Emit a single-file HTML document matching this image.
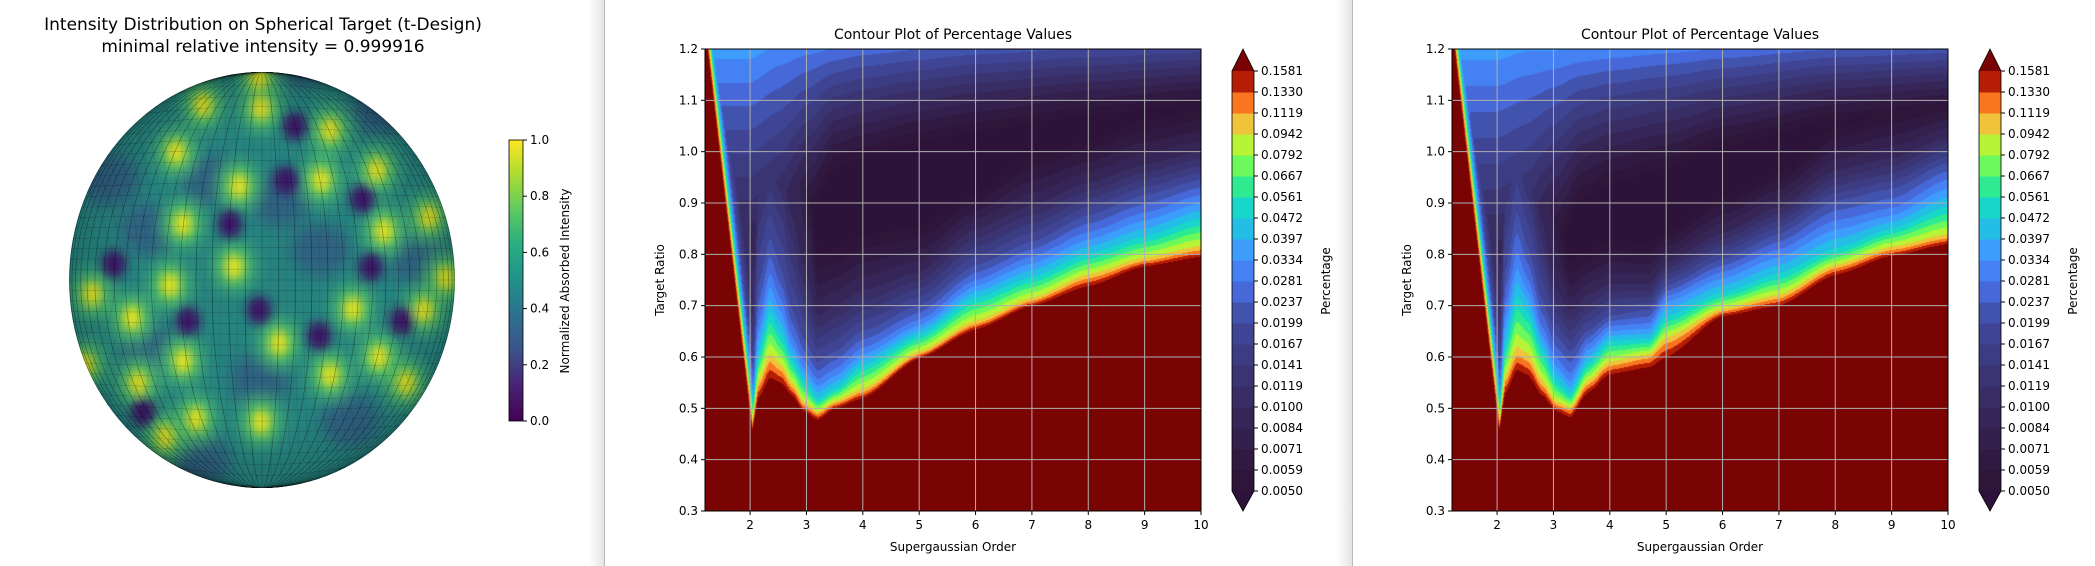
<!DOCTYPE html>
<html><head><meta charset="utf-8">
<style>
html,body{margin:0;padding:0;background:#fff;}
body{width:2095px;height:566px;position:relative;overflow:hidden;font-family:"DejaVu Sans","Liberation Sans",sans-serif;}
.sep{position:absolute;top:0;height:566px;width:16px;background:linear-gradient(to right,rgba(255,255,255,0),#e4e4e4);border-right:1px solid #b8b8b8;}
svg text{font-family:"DejaVu Sans","Liberation Sans",sans-serif;fill:#000;}
</style></head>
<body>
<div class="sep" style="left:588px"></div>
<div class="sep" style="left:1336px"></div>

<svg id="sphereSvg" width="600" height="566" style="position:absolute;left:0;top:0">
  <text x="263" y="30" font-size="17" text-anchor="middle">Intensity Distribution on Spherical Target (t-Design)</text>
  <text x="263" y="52" font-size="17" text-anchor="middle">minimal relative intensity = 0.999916</text>
  <defs>
    <clipPath id="sclip"><ellipse cx="262" cy="280" rx="193" ry="208"/></clipPath>
    <filter id="blur" x="-50%" y="-50%" width="200%" height="200%"><feGaussianBlur stdDeviation="8"/></filter>
    <filter id="blur2" x="-50%" y="-50%" width="200%" height="200%"><feGaussianBlur stdDeviation="5"/></filter>
    <radialGradient id="shade" cx="50%" cy="50%" r="50%">
      <stop offset="0.7" stop-color="#000" stop-opacity="0"/>
      <stop offset="1" stop-color="#000" stop-opacity="0.15"/>
    </radialGradient>
    <linearGradient id="viridis" x1="0" y1="1" x2="0" y2="0">
      <stop offset="0" stop-color="#440154"/><stop offset="0.13" stop-color="#482475"/>
      <stop offset="0.25" stop-color="#3b528b"/><stop offset="0.38" stop-color="#2c728e"/>
      <stop offset="0.5" stop-color="#21918c"/><stop offset="0.63" stop-color="#28ae80"/>
      <stop offset="0.75" stop-color="#5ec962"/><stop offset="0.88" stop-color="#addc30"/>
      <stop offset="1" stop-color="#fde725"/>
    </linearGradient>
  </defs>
  <g clip-path="url(#sclip)">
    <ellipse cx="262" cy="280" rx="193" ry="208" fill="#26837f"/>
    <g id="midBlobs" filter="url(#blur)"></g>
    <g id="blobs" filter="url(#blur2)"></g>
    <g id="mesh" fill="none" stroke="#000" stroke-opacity="0.22" stroke-width="0.6"></g>
    <ellipse cx="262" cy="280" rx="193" ry="208" fill="url(#shade)"/>
  </g>
  <rect x="509" y="140" width="14" height="281" fill="url(#viridis)" stroke="#000" stroke-width="0.8"/>
  <g id="sphereTicks"></g>
  <text transform="translate(569,281) rotate(-90)" font-size="12" text-anchor="middle">Normalized Absorbed Intensity</text>
</svg>

<svg id="midSvg" width="740" height="566" style="position:absolute;left:605px;top:0"></svg>
<svg id="rightSvg" width="743" height="566" style="position:absolute;left:1352px;top:0"></svg>

<script>
// ---------- shared contour data ----------
const levels = [0.0050,0.0059,0.0071,0.0084,0.0100,0.0119,0.0141,0.0167,0.0199,0.0237,0.0281,0.0334,0.0397,0.0472,0.0561,0.0667,0.0792,0.0942,0.1119,0.1330,0.1581];
const levelLabels = ['0.0050','0.0059','0.0071','0.0084','0.0100','0.0119','0.0141','0.0167','0.0199','0.0237','0.0281','0.0334','0.0397','0.0472','0.0561','0.0667','0.0792','0.0942','0.1119','0.1330','0.1581'];
const bandColors = ['#2e1539','#301a42','#33204c','#362657','#382d64','#3a3472','#3c3c82','#3f4594','#4253ae','#4668d8','#4482f3','#3c9dfc','#23bde6','#18d6c9','#2eeb92','#6cf95b','#b7f435','#efc43a','#f97520','#b61d05'];
const underColor = '#2d1339';
const overColor = '#7a0403';
const xTicks = [2,3,4,5,6,7,8,9,10];
const yTicks = [0.3,0.4,0.5,0.6,0.7,0.8,0.9,1.0,1.1,1.2];
const lowVals = [0.158,0.1,0.05,0.03,0.02,0.01,0.006];
const stripeDx = [0,0.03,0.07,0.11,0.15,0.24,0.5];
const stripeVal = [0.158,0.1,0.05,0.03,0.02,0.012,0.008];

// middle chart data
const midX = [1.2,2.02,2.15,2.35,2.55,2.75,2.95,3.2,3.5,4,5,6,7,8,9,10];
const midH = [
 [0.45,0.46,0.48,0.5,0.53,0.62,1.6],
 [0.45,0.46,0.48,0.5,0.53,0.62,1.6],
 [0.52,0.55,0.6,0.66,0.74,0.97,1.6],
 [0.56,0.6,0.68,0.75,0.83,1.02,1.6],
 [0.55,0.58,0.64,0.7,0.77,0.97,1.6],
 [0.525,0.545,0.59,0.63,0.69,0.87,1.5],
 [0.495,0.51,0.55,0.585,0.635,0.78,1.0],
 [0.478,0.492,0.515,0.55,0.59,0.68,0.77],
 [0.5,0.512,0.535,0.57,0.61,0.7,0.78],
 [0.52,0.535,0.58,0.612,0.65,0.73,0.81],
 [0.598,0.608,0.64,0.667,0.70,0.765,0.83],
 [0.654,0.667,0.712,0.745,0.778,0.85,0.90],
 [0.70,0.712,0.752,0.79,0.824,0.895,0.967],
 [0.738,0.758,0.797,0.837,0.876,0.94,1.0],
 [0.777,0.79,0.83,0.875,0.915,0.975,1.04],
 [0.795,0.812,0.865,0.91,0.945,1.0,1.06]];
const midTopX = [1.2,2,2.5,3,3.5,4,5,6,8,10];
const midTopVal = [0.036,0.036,0.032,0.03,0.028,0.026,0.024,0.022,0.02,0.018];
const midTopDepth = [0.5,0.5,0.45,0.32,0.22,0.2,0.17,0.15,0.12,0.1];

// right chart data
const rightX = [1.2,2.02,2.15,2.35,2.55,2.8,3.05,3.3,3.6,4,4.7,5,6,7,8,9,10];
const rightH = [
 [0.45,0.46,0.48,0.5,0.53,0.62,1.6],
 [0.45,0.46,0.48,0.5,0.53,0.62,1.6],
 [0.53,0.56,0.62,0.69,0.77,1.0,1.6],
 [0.575,0.612,0.71,0.79,0.88,1.1,1.6],
 [0.565,0.6,0.68,0.74,0.81,1.0,1.6],
 [0.525,0.55,0.61,0.65,0.71,0.86,1.5],
 [0.495,0.51,0.55,0.59,0.64,0.73,0.86],
 [0.483,0.5,0.525,0.56,0.61,0.69,0.76],
 [0.53,0.55,0.585,0.62,0.65,0.72,0.785],
 [0.567,0.588,0.628,0.657,0.68,0.743,0.806],
 [0.58,0.603,0.632,0.661,0.692,0.742,0.80],
 [0.60,0.635,0.675,0.715,0.738,0.784,0.83],
 [0.68,0.692,0.722,0.761,0.79,0.842,0.895],
 [0.70,0.718,0.758,0.804,0.839,0.892,0.942],
 [0.76,0.777,0.806,0.859,0.904,0.964,1.025],
 [0.797,0.812,0.846,0.883,0.927,0.988,1.053],
 [0.82,0.835,0.888,0.94,0.978,1.028,1.08]];
const rightTopX = [1.2,2,2.5,3,3.5,4,5,6,8,10];
const rightTopVal = [0.036,0.036,0.034,0.034,0.033,0.032,0.03,0.028,0.024,0.022];
const rightTopDepth = [0.55,0.55,0.5,0.38,0.28,0.25,0.22,0.18,0.13,0.11];

// sphere blobs
const yellowBlobs = [[239,186],[321,180],[261,108],[203,105],[330,130],[176,152],[183,224],[384,231],[234,267],[170,285],[92,294],[132,318],[353,309],[424,310],[279,343],[183,361],[138,383],[330,375],[379,357],[406,383],[196,419],[261,422],[377,170],[429,217],[446,278],[259,78],[165,437],[85,365]];
const darkBlobs = [[230,224],[362,199],[295,126],[188,321],[319,336],[259,310],[402,321],[143,412],[371,267],[286,180],[114,264]];
const blueRegions = [[280,200],[210,180],[150,230],[320,250],[260,380],[150,350],[350,420],[420,260],[110,180],[300,60],[200,460],[380,110]];
const sphereTicks = [0,0.2,0.4,0.6,0.8,1.0];

const NS='http://www.w3.org/2000/svg';
function mk(tag,attrs,parent){const e=document.createElementNS(NS,tag);for(const k in attrs)e.setAttribute(k,attrs[k]);if(parent)parent.appendChild(e);return e;}

// ---------- sphere ----------
(function(){
  const mb=document.getElementById('midBlobs');
  blueRegions.forEach(p=>{
    const e=mk('ellipse',{cx:p[0],cy:p[1],rx:30,ry:26,fill:'#31577f','fill-opacity':0.8},mb);
    
    
  });
  yellowBlobs.forEach(p=>{
    const e=mk('ellipse',{cx:p[0],cy:p[1],rx:20,ry:24,fill:'#4fbf6a'},mb);
    
    
  });
  const bl=document.getElementById('blobs');
  yellowBlobs.forEach(p=>{
    const e=mk('ellipse',{cx:p[0],cy:p[1],rx:9,ry:12,fill:'#e0e024'},bl);
    
    
  });
  darkBlobs.forEach(p=>{
    const e=mk('ellipse',{cx:p[0],cy:p[1],rx:12,ry:14,fill:'#3a1566'},bl);
    
    
  });
  const m=document.getElementById('mesh');
  for(let i=1;i<36;i++){
    const a=i/36*Math.PI;
    mk('ellipse',{cx:262,cy:280,rx:Math.abs(193*Math.cos(a)),ry:208},m);
  }
  for(let i=1;i<40;i++){
    const t=-1+2*i/40;const y=280+208*t;const w=193*Math.sqrt(1-t*t);
    mk('path',{d:`M${262-w},${y} Q262,${y+ (t)*18} ${262+w},${y}`},m);
  }
  for(let i=1;i<40;i++){
    const t=-1+2*i/40;const x=262+193*t;
    mk('path',{d:`M${x},${280-208*Math.sqrt(1-t*t)} Q${262+(x-262)*0.7},280 ${x},${280+208*Math.sqrt(1-t*t)}`,'stroke-opacity':0.12},m);
  }
  const g=document.getElementById('sphereTicks');
  sphereTicks.forEach(v=>{
    const y=421-v*281;
    mk('line',{x1:523,x2:527,y1:y,y2:y,stroke:'#000'},g);
    const t=mk('text',{x:530,y:y+4,'font-size':12},g);t.textContent=v.toFixed(1);
    
    
  });
})();

// ---------- contour ----------
function interp1(xs,ys,x){
  if(x<=xs[0])return ys[0];
  for(let i=1;i<xs.length;i++){if(x<=xs[i]){let t=(x-xs[i-1])/(xs[i]-xs[i-1]);t=t*t*(3-2*t)*0.5+t*0.5;return ys[i-1]+t*(ys[i]-ys[i-1]);}}
  return ys[ys.length-1];
}
function valueAt(x,r,X,H,TX,TV,TD){
  const h=[];
  for(let k=0;k<lowVals.length;k++){h.push(interp1(X,H.map(c=>c[k]),x));}
  let vLow;
  if(r<=h[0])vLow=1;
  else{
    vLow=null;
    for(let k=1;k<h.length;k++){
      if(r<=h[k]){const t=(r-h[k-1])/(h[k]-h[k-1]);vLow=Math.exp(Math.log(lowVals[k-1])+t*(Math.log(lowVals[k])-Math.log(lowVals[k-1])));break;}
    }
    if(vLow===null){const n=h.length-1;const sl=(Math.log(lowVals[n])-Math.log(lowVals[n-1]))/(h[n]-h[n-1]);vLow=Math.exp(Math.log(lowVals[n])+sl*(r-h[n]));}
  }
  const xL=1.247+(1.2-r)*(0.743/0.7);
  const dx=x-xL;let vS;
  if(dx<=0)vS=1;else if(dx>=stripeDx[stripeDx.length-1])vS=stripeVal[stripeVal.length-1]*Math.exp(-(dx-0.5)*2);
  else{
    for(let k=1;k<stripeDx.length;k++){if(dx<=stripeDx[k]){const t=(dx-stripeDx[k-1])/(stripeDx[k]-stripeDx[k-1]);vS=Math.exp(Math.log(stripeVal[k-1])+t*(Math.log(stripeVal[k])-Math.log(stripeVal[k-1])));break;}}
  }
  const tv=interp1(TX,TV,x),td=interp1(TX,TD,x);
  const vT=tv*Math.pow(0.0055/tv,(1.2-r)/td);
  return Math.max(vLow,vS,vT);
}
function hexRGB(h){return [parseInt(h.substr(1,2),16),parseInt(h.substr(3,2),16),parseInt(h.substr(5,2),16)];}
const bandRGB=bandColors.map(hexRGB),underRGB=hexRGB(underColor),overRGB=hexRGB(overColor);
function colorFor(v){
  if(v<levels[0])return underRGB;
  if(v>=levels[levels.length-1])return overRGB;
  for(let i=1;i<levels.length;i++)if(v<levels[i])return bandRGB[i-1];
  return overRGB;
}

function drawContour(svgId,X,H,TX,TV,TD,prefix){
  const svg=document.getElementById(svgId);
  const L=100,T=49,W=496,Hh=462;
  const xMin=1.2,xMax=10,yMin=0.3,yMax=1.2;
  const sx=v=>L+(v-xMin)/(xMax-xMin)*W;
  const sy=v=>T+(yMax-v)/(yMax-yMin)*Hh;
  const cv=document.createElement('canvas');cv.width=W;cv.height=Hh;
  const ctx=cv.getContext('2d');const img=ctx.createImageData(W,Hh);
  for(let j=0;j<Hh;j++){const r=yMax-(j+0.5)/Hh*(yMax-yMin);
    for(let i=0;i<W;i++){const x=xMin+(i+0.5)/W*(xMax-xMin);
      const c=colorFor(valueAt(x,r,X,H,TX,TV,TD));const o=(j*W+i)*4;
      img.data[o]=c[0];img.data[o+1]=c[1];img.data[o+2]=c[2];img.data[o+3]=255;}}
  ctx.putImageData(img,0,0);
  const im=mk('image',{x:L,y:T,width:W,height:Hh,href:cv.toDataURL()},svg);
  
  
  xTicks.forEach(v=>{mk('line',{x1:sx(v),x2:sx(v),y1:T,y2:T+Hh,stroke:'#b0b0b0','stroke-width':1},svg);});
  yTicks.forEach(v=>{mk('line',{x1:L,x2:L+W,y1:sy(v),y2:sy(v),stroke:'#b0b0b0','stroke-width':1},svg);});
  mk('rect',{x:L,y:T,width:W,height:Hh,fill:'none',stroke:'#000','stroke-width':1},svg);
  xTicks.forEach(v=>{
    mk('line',{x1:sx(v),x2:sx(v),y1:T+Hh,y2:T+Hh+4,stroke:'#000'},svg);
    const t=mk('text',{x:sx(v),y:T+Hh+18,'font-size':12,'text-anchor':'middle'},svg);t.textContent=String(v);
    
    
  });
  yTicks.forEach(v=>{
    mk('line',{x1:L-4,x2:L,y1:sy(v),y2:sy(v),stroke:'#000'},svg);
    const t=mk('text',{x:L-7,y:sy(v)+4,'font-size':12,'text-anchor':'end'},svg);t.textContent=v.toFixed(1);
    
    
  });
  const ti=mk('text',{x:L+W/2,y:39,'font-size':14,'text-anchor':'middle'},svg);ti.textContent='Contour Plot of Percentage Values';
  
  
  const xl=mk('text',{x:L+W/2,y:551,'font-size':12,'text-anchor':'middle'},svg);xl.textContent='Supergaussian Order';
  
  
  const yl=mk('text',{transform:`translate(59,${T+Hh/2}) rotate(-90)`,'font-size':12,'text-anchor':'middle'},svg);yl.textContent='Target Ratio';
  
  
  const cx=627,cw=22,cTop=71,cBot=491;const n=bandColors.length;const bh=(cBot-cTop)/n;
  const cb=mk('g',{},svg);
  
  
  bandColors.forEach((c,i)=>{mk('rect',{x:cx,y:cBot-(i+1)*bh,width:cw,height:bh+0.5,fill:c},cb);});
  mk('polygon',{points:`${cx},${cTop} ${cx+cw},${cTop} ${cx+cw/2},${T}`,fill:overColor},cb);
  mk('polygon',{points:`${cx},${cBot} ${cx+cw},${cBot} ${cx+cw/2},${T+Hh}`,fill:underColor},cb);
  mk('polygon',{points:`${cx+cw/2},${T} ${cx+cw},${cTop} ${cx+cw},${cBot} ${cx+cw/2},${T+Hh} ${cx},${cBot} ${cx},${cTop}`,fill:'none',stroke:'#000','stroke-width':0.8},cb);
  levelLabels.forEach((lab,i)=>{
    const y=cBot-i*bh;
    mk('line',{x1:cx+cw,x2:cx+cw+4,y1:y,y2:y,stroke:'#000'},cb);
    const t=mk('text',{x:cx+cw+7,y:y+4,'font-size':12},cb);t.textContent=lab;
    
    
  });
  const cl=mk('text',{transform:`translate(725,${(cTop+cBot)/2}) rotate(-90)`,'font-size':12,'text-anchor':'middle'},svg);cl.textContent='Percentage';
  
  
}
drawContour('midSvg',midX,midH,midTopX,midTopVal,midTopDepth,'left');
drawContour('rightSvg',rightX,rightH,rightTopX,rightTopVal,rightTopDepth,'right');
</script>
</body></html>
